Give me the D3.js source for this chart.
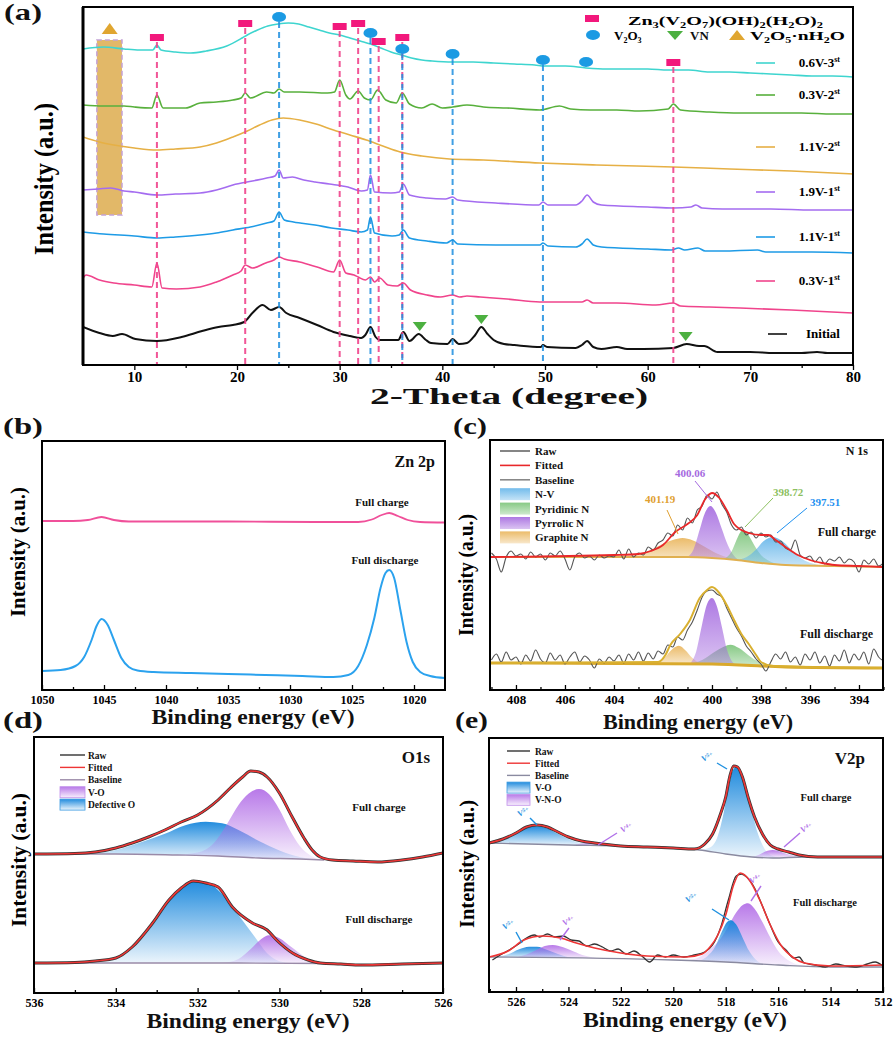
<!DOCTYPE html>
<html><head><meta charset="utf-8">
<script src="https://cdn.jsdelivr.net/npm/d3@7/dist/d3.min.js"></script>
<style>
body{margin:0;background:#fff}
svg{display:block;font-weight:bold}
</style></head><body>
<svg id="fig" width="895" height="1038" font-family="Liberation Serif, Times New Roman, serif"></svg>
<script>
// ---------- (a) XRD patterns: [2theta, intensity] ----------
const xrdTicks = [10,20,30,40,50,60,70,80];
const xrdCyan = [[5,316],[7,318],[9,316],[10.5,315],[11.8,315],[12.2,320],[12.6,315],[14,313],[15.5,312],[17,314],[19,319],[20.5,327],[21,330],[22,335],[23,339],[24,341],[25,342],[26,341],[27,338],[28,335],[29,332],[30,330],[31,327],[32,324],[33,321],[34,317],[35,313],[36,310],[37,307],[38,305],[39,304],[41,303],[43,303],[45,302],[47,301],[49,300],[50,299],[52,299],[54,297],[56,296],[58,296],[60,296],[62,295],[64,295],[66,293],[68,293],[70,292],[72,291],[74,290],[76,289],[78,289],[80,288]];
const xrdGreen = [[5,260],[7,259],[9,259],[10,258],[11.7,257],[12.2,270],[12.8,257],[14,257],[15,257],[16.4,262],[18,263],[19.6,265],[20.4,267],[20.8,272],[21.3,267],[22.9,273],[23.6,272],[24.1,276],[24.6,273],[26.1,273],[28.8,272],[29.5,273],[30.0,285],[30.6,270],[31,266],[31.8,274],[32.4,267],[33.0,265],[33.7,275],[34.5,265],[35.5,262],[36.1,272],[36.8,261],[38,257],[39,261],[40,257],[41,258],[42.4,260],[44,258],[46.3,257],[49.5,255],[51.4,259],[52.5,256],[54.4,255],[57,255],[59.2,254],[62,256],[62.5,261],[63.2,255],[66,253],[69,252],[72,252],[75,252],[78,251],[80,251]];
const xrdOrange = [[5,228],[6.6,223],[8,220],[10,217],[12.2,215],[14,216],[16.4,218],[18,222],[19.6,228],[21,234],[22.2,240],[23.4,245],[24.5,247],[26.1,245],[27.7,241],[29.4,235],[31,230],[32.6,225],[34.2,219],[35.9,213],[38,209],[40.7,206],[44,205],[49.5,202],[55,200],[62.5,198],[68,196],[74,194],[80,191]];
const xrdPurple = [[5,175],[6.5,176],[7.7,177],[9,174],[10,173],[12.2,170],[14,171],[16.4,172],[18,175],[19.6,180],[21.5,184],[22.9,187],[23.7,189],[24.1,195],[24.5,187],[25.4,188],[26.5,185],[27.6,183],[29,181],[30.8,178],[32.1,174],[32.7,175],[33.0,190],[33.4,173],[35,172],[35.8,173],[36.2,181],[36.8,170],[38.5,167],[40.3,166],[41.0,168],[41.5,165],[45.2,162],[49.4,160],[49.8,163],[50.3,160],[53,160],[53.6,164],[54.1,170],[54.7,163],[55.5,160],[60,158],[62.5,157],[64.2,158],[64.7,160],[65.3,157],[67.3,156],[72,156],[76,155],[80,155]];
const xrdBlue = [[5,133],[7,131],[10,129],[12.2,127],[14,128],[16.4,130],[18,132],[19.6,135],[21.3,138],[22.9,142],[23.6,144],[24.1,153],[24.6,145],[25.5,143],[27.6,140],[29.2,137],[30.8,135],[32.1,133],[32.7,135],[33.0,148],[33.4,132],[35.1,129],[35.8,130],[36.2,135],[36.8,127],[38.5,124],[40.4,122],[41.0,125],[41.5,121],[45.2,120],[49.5,120],[49.8,122],[50.3,119],[53,118],[53.6,121],[54.1,126],[54.7,120],[55.5,118],[60,116],[62.3,115],[63,117],[63.6,115],[64.9,117],[65.6,114],[67.3,114],[70.7,115],[71.5,113],[76,113],[80,112]];
const xrdPink = [[5,87],[5.3,90],[6.6,85],[8,82],[10,80],[11.7,78],[12.2,102],[12.7,77],[14.1,76],[16.4,78],[18,83],[19.6,90],[20.4,94],[20.8,100],[21.5,97],[22.8,102],[23.6,105],[24.1,108],[24.6,106],[26.1,103],[27.8,98],[29.4,93],[30.0,105],[30.6,92],[31.4,90],[31.8,88],[32.5,85],[33.0,88],[33.4,83],[33.9,87],[34.7,80],[35.6,79],[36.2,82],[36.9,75],[38.5,70],[39.8,68],[41,70],[41.7,68],[42.4,69],[43.7,68],[46.3,66],[49.5,63],[52,63],[53.6,63],[54.1,65],[54.7,62],[57,62],[60.8,60],[62.5,62],[63.2,59],[66,58],[69,57],[74,55],[80,52]];
const xrdBlack = [[5,38],[6.6,32],[7.9,29],[8.8,31],[10.1,26],[12.2,24],[14.6,28],[16.6,34],[18.2,38],[19.6,40],[20.7,43],[21.5,52],[22.5,60],[23.3,55],[24.1,58],[24.8,52],[26.1,47],[27.8,40],[29.4,33],[31,29],[32.1,27],[32.5,30],[33.0,38],[33.5,28],[33.9,25],[35.7,25],[36.2,33],[36.8,24],[37.7,31],[38.4,25],[38.9,22],[40.5,21],[41,26],[41.6,21],[42.4,22],[43.2,30],[43.8,38],[44.4,31],[45,25],[46,21],[47,20],[49.6,18],[49.8,20],[50.2,18],[53,17],[53.6,20],[54.1,24],[54.7,18],[55.5,16],[57,18],[58,16],[59.6,16],[62.5,17],[63.8,21],[65.0,19],[65.5,19],[66.8,13],[70,13],[72.3,12],[75,12],[76.5,13],[77.5,12],[80,12]];
const xrdNames = ["0.6V-3","0.3V-2","1.1V-2","1.9V-1","1.1V-1","0.3V-1","Initial"];
const xrdSup = ["st","st","st","st","st","st",""];
// reference phases: [2theta, intensity level of marker]
const zvoMarks = [[12.2,327],[20.8,341],[30.0,338],[31.8,341],[33.8,323],[36.1,327],[62.5,302]];
const v2o3Marks = [[24.1,348],[33.0,332],[36.1,316],[41.0,311],[49.8,305],[54.0,303]];
const v2o3Lines = [24.1,33.0,36.1,41.0,49.8];
const vnMarks = [[37.8,43],[43.8,50],[63.7,33]];
const hydrateBand = [6.35, 8.8, 150, 325];
const hydrateMark = [7.6, 331];

// ---------- (b) Zn 2p: [binding energy, intensity] ----------
const znTicks = [1050,1045,1040,1035,1030,1025,1020];
const znCharge = [[1050,169],[1047.5,169],[1046.3,170],[1045.2,173],[1044.2,170],[1043,168.5],[1035,168.5],[1028,168],[1024.5,168],[1023.4,170.5],[1022.6,175],[1022.0,177],[1021.3,174],[1020.5,170],[1019.5,168],[1017.5,167.5]];
const znDischarge = [[1050,19],[1048.5,20],[1047.3,24],[1046.6,33],[1046.0,50],[1045.6,64],[1045.2,71],[1044.7,65],[1044.2,50],[1043.6,32],[1043.0,23],[1042.3,19.5],[1041,18],[1038,17],[1035,16],[1032,15],[1029,14],[1026.5,13],[1025.3,15],[1024.5,24],[1023.8,45],[1023.2,72],[1022.7,102],[1022.3,117],[1022.0,120],[1021.6,112],[1021.1,80],[1020.6,48],[1020.1,28],[1019.5,18],[1018.7,14],[1017.5,12]];

// ---------- (c) N 1s ----------
const nTicks = [408,406,404,402,400,398,396,394];
const nRawC = [[409.0,137],[408.8,131],[408.6,118],[408.4,133],[408.2,139],[408.0,134],[407.8,136],[407.6,131],[407.4,138],[407.2,133],[407.0,136],[406.8,130],[406.6,137],[406.4,134],[406.2,139],[406.0,131],[405.8,120],[405.6,133],[405.4,137],[405.2,132],[405.0,134],[404.8,130],[404.6,135],[404.4,132],[404.2,134],[404.0,133],[403.8,140],[403.6,131],[403.4,141],[403.2,133],[403.0,137],[402.8,135],[402.6,143],[402.4,140],[402.2,147],[402.0,150],[401.8,157],[401.6,154],[401.4,165],[401.2,160],[401.0,172],[400.8,167],[400.6,180],[400.4,184],[400.2,195],[400.0,191],[399.8,198],[399.6,186],[399.4,178],[399.2,165],[399.0,160],[398.8,163],[398.6,155],[398.4,158],[398.2,152],[398.0,157],[397.8,153],[397.6,155],[397.4,148],[397.2,149],[397.0,142],[396.8,140],[396.6,150],[396.4,135],[396.2,132],[396.0,134],[395.8,128],[395.6,133],[395.4,126],[395.2,131],[395.0,129],[394.8,133],[394.6,127],[394.4,131],[394.2,128],[394.0,118],[393.8,130],[393.6,126],[393.4,131],[393.2,124],[393.0,127]];
const nFitC = [[409.06,133],[404,135],[403,136],[402.5,139],[402,145],[401.5,158],[401.0,166],[400.6,175],[400.3,190],[400.0,197],[399.7,192],[399.4,180],[399.1,166],[398.8,160],[398.5,157],[398.0,155],[397.7,155],[397.4,150],[397.0,143],[396.5,135],[396.0,130],[395.5,127],[395,125],[394,124],[393.02,123]];
const nBaseC = [[409.06,133],[401,133],[400,132],[399,130],[398,127],[397,125],[395,124],[393.02,123]];
// component heights above baseline
const nGraphiteC = [[404.0,0],[403.2,2],[402.6,6],[402.1,12],[401.6,17],[401.2,19],[400.8,17],[400.3,11],[399.8,5],[399.3,1.5],[398.8,0]];
const nPyrrolicC = [[401.0,0],[400.75,8],[400.5,28],[400.3,44],[400.06,52],[399.85,46],[399.6,30],[399.35,14],[399.1,4],[398.9,0]];
const nPyridinicC = [[399.5,0],[399.2,8],[399.0,20],[398.85,28],[398.72,31],[398.5,26],[398.25,16],[398.0,8],[397.7,3],[397.3,0]];
const nNVC = [[399.0,0],[398.6,4],[398.2,13],[397.9,22],[397.51,27],[397.1,23],[396.7,14],[396.3,6],[395.9,2],[395.5,0]];
const nPeakLabels = ["401.19","400.06","398.72","397.51"];
const nRawD = [[409.0,30],[408.8,36],[408.6,28],[408.4,38],[408.2,30],[408.0,33],[407.8,26],[407.6,35],[407.4,29],[407.2,40],[407.0,31],[406.8,27],[406.6,37],[406.4,30],[406.2,35],[406.0,26],[405.8,33],[405.6,38],[405.4,28],[405.2,34],[405.0,30],[404.8,22],[404.6,31],[404.4,27],[404.2,33],[404.0,29],[403.8,35],[403.6,27],[403.4,36],[403.2,30],[403.0,38],[402.8,29],[402.6,37],[402.4,31],[402.2,39],[402.0,36],[401.8,45],[401.6,43],[401.4,53],[401.2,50],[401.0,60],[400.8,68],[400.6,80],[400.4,93],[400.2,99],[400.0,100],[399.8,96],[399.6,93],[399.4,82],[399.2,72],[399.0,62],[398.8,54],[398.6,44],[398.4,38],[398.2,31],[398.0,26],[397.8,19],[397.6,28],[397.4,36],[397.2,31],[397.0,38],[396.8,28],[396.6,33],[396.4,25],[396.2,36],[396.0,30],[395.8,38],[395.6,27],[395.4,34],[395.2,24],[395.0,35],[394.8,29],[394.6,40],[394.4,27],[394.2,36],[394.0,30],[393.8,38],[393.6,26],[393.4,41],[393.2,33],[393.0,29]];
const nFitD = [[409.06,27],[402.2,28],[401.9,35],[401.7,45],[401.3,56],[400.9,70],[400.5,92],[400.2,100],[400.0,103],[399.7,97],[399.4,85],[399.1,70],[398.8,56],[398.5,46],[398.2,35],[398.0,28],[397.5,24],[393.02,22]];
const nBaseD = [[409.06,27],[400,26],[397,23],[393.02,22]];
const nGraphiteD = [[402.2,0],[401.9,7],[401.6,15],[401.35,18],[401.1,14],[400.8,6],[400.5,1],[400.2,0]];
const nPyrrolicD = [[400.9,0],[400.65,12],[400.4,40],[400.2,60],[400.0,66],[399.8,58],[399.6,38],[399.4,16],[399.2,4],[399.0,0]];
const nPyridinicD = [[401.0,0],[400.4,4],[399.9,12],[399.5,18],[399.25,20],[398.9,17],[398.5,10],[398.1,4],[397.6,1],[397.2,0]];

// ---------- (d) O 1s ----------
const oTicks = [536,534,532,530,528,526];
const oFitC = [[536,139],[535,139.5],[534.5,141],[534,145],[533.6,150],[533.2,156],[532.8,163],[532.4,171],[532.0,178],[531.5,193],[531.2,205],[530.9,216],[530.7,222],[530.5,221],[530.3,216],[530.0,200],[529.7,177],[529.4,155],[529.2,143],[529.0,136],[528.7,133],[528.2,132],[527.6,131],[527,133],[526.5,136],[526,140]];
const oBaseC = [[536,139],[534,139],[532.5,138],[531.5,137],[530.5,135],[529.5,134],[528.9,133]];
const oVOC = [[532.6,0],[532.0,3],[531.6,13],[531.3,31],[531.0,52],[530.75,64],[530.5,69],[530.25,64],[530.0,49],[529.75,29],[529.5,13],[529.2,3],[529.0,0]];
const oDefC = [[534.6,0],[534.0,4],[533.4,12],[532.8,21],[532.3,30],[531.8,34],[531.4,33],[531.0,27],[530.5,17],[530.0,8],[529.5,2],[529.0,0]];
const oFitD = [[536,30],[535,30.5],[534.5,32],[534,35],[533.6,46],[533.1,70],[532.7,93],[532.4,105],[532.1,112],[531.8,110],[531.5,106],[531.15,86],[530.66,70],[530.3,63],[530.07,53],[529.68,40],[529.3,33],[529.0,30],[528.5,29],[528,28],[527,29],[526,30]];
const oBaseD = [[536,30],[531,30],[528.9,29.5]];
const oDefD = [[534.6,0],[534,4],[533.6,15],[533.1,40],[532.7,62],[532.4,75],[532.05,82],[531.7,79],[531.4,69],[531.0,48],[530.6,26],[530.3,10],[530.0,2],[529.7,0]];
const oVOD = [[531.4,0],[531.0,4],[530.7,14],[530.45,24],[530.25,28],[530.0,25],[529.7,16],[529.4,7],[529.1,1],[528.9,0]];

// ---------- (e) V 2p ----------
const vTicks = [526,524,522,520,518,516,514,512];
const vFitC = [[527.03,149],[526.5,153],[526,159],[525.6,165],[525.2,167],[524.8,165],[524.4,160],[524,155],[523.5,151],[523,149],[522,146],[521,145],[520,144],[519.2,143],[518.8,148],[518.5,158],[518.2,178],[518.0,195],[517.85,215],[517.7,226],[517.55,225],[517.35,214],[517.15,195],[516.9,175],[516.6,158],[516.3,147],[516.0,143],[515.6,140],[515.2,137],[514.5,135],[513,135],[512,135]];
const vBaseC = [[527.03,149],[524,147],[522,146],[520,144],[519,142],[518,138],[517,135],[516.2,134],[515,135],[512,135]];
const vVOC1 = [[519.0,0],[518.6,4],[518.3,17],[518.1,38],[517.9,66],[517.7,86],[517.6,88],[517.45,84],[517.25,70],[517.0,45],[516.75,22],[516.5,8],[516.2,2],[515.9,0]];
const vVOC2 = [[526.9,0],[526.4,5],[526.0,11],[525.6,16],[525.2,18],[524.8,16],[524.4,11],[524.0,6],[523.5,2],[523.0,0]];
const vVNOC1 = [[517.0,0],[516.7,3],[516.4,7],[516.2,8],[515.9,6],[515.6,3],[515.2,1],[514.9,0]];
const vVNOC2 = [[523.8,0],[523.4,2],[523.0,3],[522.6,2],[522.2,0]];
const vRawD = [[526.9,32],[526.6,37],[526.2,43],[525.9,48],[525.6,54],[525.3,57],[525.1,55],[524.8,58],[524.5,55],[524.2,56],[523.9,52],[523.6,51],[523.3,46],[523.0,48],[522.7,45],[522.4,41],[522.1,43],[521.8,38],[521.5,41],[521.2,36],[520.9,30],[520.6,37],[520.3,35],[520.0,37],[519.6,35],[519.2,37],[518.8,40],[518.5,47],[518.2,64],[517.9,92],[517.6,116],[517.4,118],[517.2,115],[516.9,104],[516.6,86],[516.3,67],[516.0,50],[515.7,42],[515.4,34],[515.2,35],[515.0,29],[514.6,27],[514.2,25],[513.8,28],[513.4,26],[513.0,25],[512.6,28],[512.3,30],[512.0,26]];
const vFitD = [[527.03,35],[526.3,41],[525.7,52],[525.0,56],[524.3,54],[523.7,49],[523.0,44],[522.0,39],[521.0,36],[519.5,35],[518.9,38],[518.6,45],[518.3,57],[518.0,77],[517.7,107],[517.45,119],[517.1,112],[516.7,92],[516.3,67],[515.9,47],[515.4,34],[515.0,29],[514,26],[512,27]];
const vBaseD = [[527.03,35],[520,32],[518,30],[516,27],[514,25],[512,25]];
const vVOD1 = [[519.0,0],[518.7,5],[518.4,15],[518.15,30],[517.95,40],[517.8,42],[517.6,38],[517.35,25],[517.1,12],[516.85,4],[516.6,0]];
const vVNOD1 = [[519.5,0],[519.0,4],[518.6,12],[518.2,23],[517.9,36],[517.6,50],[517.35,58],[517.15,60],[516.9,55],[516.6,42],[516.3,27],[516.0,14],[515.6,5],[515.2,1],[514.9,0]];
const vVOD2 = [[526.7,0],[526.3,3],[525.9,8],[525.5,11],[525.2,11],[524.8,8],[524.4,4],[524.0,1],[523.7,0]];
const vVNOD2 = [[526.0,0],[525.6,3],[525.2,8],[524.9,12],[524.6,13],[524.2,11],[523.8,7],[523.4,3],[523.0,1],[522.7,0]];

// ================= drawing =================
const svg = d3.select("#fig");
const defs = svg.append("defs");
function grad(id, color, top, bottom) {
  const g = defs.append("linearGradient").attr("id", id)
    .attr("x1", 0).attr("y1", 0).attr("x2", 0).attr("y2", 1);
  g.append("stop").attr("offset", "0%").attr("stop-color", color).attr("stop-opacity", top);
  g.append("stop").attr("offset", "100%").attr("stop-color", color).attr("stop-opacity", bottom);
}
grad("gBlue", "#1686dc", 0.95, 0.08);
grad("gPurple", "#b06ae6", 0.9, 0.1);
grad("gNV", "#5ab0e8", 0.85, 0.35);
grad("gPyri", "#72c070", 0.85, 0.35);
grad("gPyrr", "#a46adf", 0.9, 0.4);
grad("gGraph", "#e8b050", 0.85, 0.3);

function interp(arr, e) {
  for (let i = 0; i < arr.length - 1; i++) {
    const a = arr[i], b = arr[i + 1];
    if ((e - a[0]) * (e - b[0]) <= 0) {
      const t = (e - a[0]) / (b[0] - a[0] || 1);
      return a[1] + t * (b[1] - a[1]);
    }
  }
  return Math.abs(e - arr[0][0]) < Math.abs(e - arr[arr.length - 1][0]) ? arr[0][1] : arr[arr.length - 1][1];
}

function makePanel(box, xDomain, ticks, minor, tickSize, pad, outward) {
  const x = d3.scaleLinear().domain(xDomain).range([box.l, box.r]);
  const y = d3.scaleLinear().domain([0, box.b - box.t]).range([box.b, box.t]);
  const g = svg.append("g");
  const clipId = "clip" + box.l + "_" + box.t;
  defs.append("clipPath").attr("id", clipId).append("rect")
    .attr("x", box.l).attr("y", box.t).attr("width", box.r - box.l).attr("height", box.b - box.t);
  const plot = g.append("g").attr("clip-path", `url(#${clipId})`);
  const axG = g.append("g").attr("transform", `translate(0,${box.b})`);
  const sgn = outward ? 1 : -1;
  axG.append("g").call(d3.axisBottom(x).tickValues(minor).tickSize(3 * sgn).tickFormat(""))
    .call(a => a.select(".domain").remove());
  axG.append("g").call(d3.axisBottom(x).tickValues(ticks).tickSize(5 * sgn).tickPadding(pad).tickFormat(d3.format("d")))
    .attr("font-family", null).attr("font-size", tickSize).attr("font-weight", "bold")
    .call(a => a.select(".domain").remove());
  axG.selectAll("line").attr("stroke", "#000").attr("stroke-width", 1.3);
  g.append("rect").attr("x", box.l).attr("y", box.t)
    .attr("width", box.r - box.l).attr("height", box.b - box.t)
    .attr("fill", "none").attr("stroke", "#000").attr("stroke-width", 2);
  return {g, plot, x, y};
}

function text(g, str, x, y, size, opts = {}) {
  const t = g.append("text").attr("x", x).attr("y", y).attr("font-size", size)
    .attr("text-anchor", opts.anchor || "start").attr("fill", opts.color || "#111");
  if (opts.len) t.attr("textLength", opts.len).attr("lengthAdjust", "spacingAndGlyphs");
  t.text(str);
  return t;
}
function yLabel(x, yc, len, size) {
  svg.append("text").attr("transform", `translate(${x},${yc}) rotate(-90)`)
    .attr("text-anchor", "middle").attr("font-size", size)
    .attr("textLength", len).attr("lengthAdjust", "spacingAndGlyphs")
    .text("Intensity (a.u.)");
}
function rich(g, parts, x, y, size, len) {
  const t = g.append("text").attr("x", x).attr("y", y).attr("font-size", size);
  if (len) t.attr("textLength", len).attr("lengthAdjust", "spacingAndGlyphs");
  let shift = 0;
  parts.forEach(([s, kind]) => {
    const want = kind === "sub" ? 3 : kind === "sup" ? -5 : 0;
    t.append("tspan").attr("dy", want - shift)
      .attr("font-size", kind ? size * 0.62 : size).text(s);
    shift = want;
  });
  return t;
}

const lineOf = (p) => d3.line().x(d => p.x(d[0])).y(d => p.y(d[1])).curve(d3.curveMonotoneX);
function comp(p, data, base, fill) {
  p.plot.append("path").datum(data)
    .attr("d", d3.area().x(d => p.x(d[0]))
      .y0(d => p.y(interp(base, d[0])))
      .y1(d => p.y(interp(base, d[0]) + d[1])).curve(d3.curveMonotoneX))
    .attr("fill", fill).attr("stroke", "none");
}
function curve(p, data, color, w) {
  p.plot.append("path").datum(data).attr("d", lineOf(p))
    .attr("fill", "none").attr("stroke", color).attr("stroke-width", w)
    .attr("stroke-linejoin", "round");
}

// ---------- panel (a) ----------
const pa = makePanel({l: 83, r: 853, t: 7, b: 365}, [5, 80], xrdTicks, [15,25,35,45,55,65,75], 15, 1, true);
pa.g.append("line").attr("x1", 83).attr("x2", 83).attr("y1", 7).attr("y2", 365)
  .attr("stroke", "#000").attr("stroke-width", 3);
// hydrate band
pa.plot.append("rect").attr("x", pa.x(hydrateBand[0])).attr("y", pa.y(hydrateBand[3]))
  .attr("width", pa.x(hydrateBand[1]) - pa.x(hydrateBand[0]))
  .attr("height", pa.y(hydrateBand[2]) - pa.y(hydrateBand[3]))
  .attr("fill", "#e2b868").attr("stroke", "#c4a2d6").attr("stroke-width", 1.5).attr("stroke-dasharray", "5,3");
const triUp = (cx, by, w, h) => `M${cx - w},${by}L${cx + w},${by}L${cx},${by - h}Z`;
const triDown = (cx, ty, w, h) => `M${cx - w},${ty}L${cx + w},${ty}L${cx},${ty + h}Z`;
pa.g.append("path").attr("d", triUp(pa.x(hydrateMark[0]), pa.y(hydrateMark[1]), 8, 11)).attr("fill", "#e0a630");

const xrdColors = ["#3ed5cf", "#58b03c", "#e6b045", "#a46cf0", "#1e9be6", "#f0448c", "#111"];
const xrdData = [xrdCyan, xrdGreen, xrdOrange, xrdPurple, xrdBlue, xrdPink, xrdBlack];
xrdData.forEach((d, i) => curve(pa, d, xrdColors[i], i === 6 ? 2 : 1.6));

// dashed reference lines and markers
zvoMarks.forEach(([t, lv]) => {
  pa.g.append("line").attr("x1", pa.x(t)).attr("x2", pa.x(t)).attr("y1", pa.y(lv) + 4).attr("y2", 364)
    .attr("stroke", "#f0448c").attr("stroke-width", 2).attr("stroke-dasharray", "6,4").attr("opacity", 0.9);
});
v2o3Lines.forEach(t => {
  const lv = v2o3Marks.find(m => m[0] === t)[1];
  pa.g.append("line").attr("x1", pa.x(t)).attr("x2", pa.x(t)).attr("y1", pa.y(lv) + 5).attr("y2", 364)
    .attr("stroke", "#1e8fe0").attr("stroke-width", 2).attr("stroke-dasharray", "6,4").attr("opacity", 0.85);
});
zvoMarks.forEach(([t, lv]) => {
  pa.g.append("rect").attr("x", pa.x(t) - 7).attr("y", pa.y(lv) - 4).attr("width", 14).attr("height", 7).attr("fill", "#f2187c");
});
v2o3Marks.forEach(([t, lv]) => {
  pa.g.append("ellipse").attr("cx", pa.x(t)).attr("cy", pa.y(lv)).attr("rx", 7).attr("ry", 5).attr("fill", "#1b9ae3");
});
vnMarks.forEach(([t, lv]) => {
  pa.g.append("path").attr("d", triDown(pa.x(t), pa.y(lv), 7, 9)).attr("fill", "#4cb040");
});
// series labels
const xrdLabelY = [63, 95, 147, 192, 237, 281, 334];
xrdNames.forEach((n, i) => {
  const t = rich(pa.g, xrdSup[i] ? [[n, null], [xrdSup[i], "sup"]] : [[n, null]], 840, xrdLabelY[i] + 4, 13);
  t.attr("text-anchor", "end");
  const w = i === 6 ? 50 : 62;
  pa.g.append("line").attr("x1", 840 - w - 22).attr("x2", 840 - w - 3)
    .attr("y1", xrdLabelY[i]).attr("y2", xrdLabelY[i]).attr("stroke", xrdColors[i]).attr("stroke-width", 1.6);
});
// phase legend
pa.g.append("rect").attr("x", 585).attr("y", 15).attr("width", 14).attr("height", 7).attr("fill", "#f2187c");
rich(pa.g, [["Zn", null], ["3", "sub"], ["(V", null], ["2", "sub"], ["O", null], ["7", "sub"], [")(OH)", null], ["2", "sub"], ["(H", null], ["2", "sub"], ["O)", null], ["2", "sub"]], 628, 25, 13, 195);
pa.g.append("ellipse").attr("cx", 593).attr("cy", 35).attr("rx", 7).attr("ry", 5).attr("fill", "#1b9ae3");
rich(pa.g, [["V", null], ["2", "sub"], ["O", null], ["3", "sub"]], 614, 40, 13);
pa.g.append("path").attr("d", triDown(675, 31, 8, 9)).attr("fill", "#4cb040");
text(pa.g, "VN", 690, 40, 13);
pa.g.append("path").attr("d", triUp(737, 40, 8, 10)).attr("fill", "#e0a630");
rich(pa.g, [["V", null], ["2", "sub"], ["O", null], ["5", "sub"], ["·nH", null], ["2", "sub"], ["O", null]], 750, 40, 13, 95);

text(svg, "(a)", 4, 20, 24, {len: 38});
yLabel(53, 179, 152, 28);
text(svg, "2-Theta (degree)", 509, 404, 23, {anchor: "middle", len: 278});

// ---------- panel (b) ----------
const pb = makePanel({l: 42, r: 445, t: 441, b: 690}, [1050, 1017.5], znTicks, [1047.5,1042.5,1037.5,1032.5,1027.5,1022.5], 12, 5);
curve(pb, znCharge, "#f0509a", 1.8);
curve(pb, znDischarge, "#2ba2ee", 2);
text(svg, "Zn 2p", 435, 467, 16, {anchor: "end"});
text(svg, "Full charge", 382, 506, 11, {anchor: "middle"});
text(svg, "Full discharge", 385, 564, 11, {anchor: "middle"});
text(svg, "(b)", 3, 434, 24, {len: 40});
yLabel(25, 552, 130, 21);
text(svg, "Binding energy (eV)", 253, 724, 20, {anchor: "middle", len: 203});

// ---------- panel (c) ----------
const pc = makePanel({l: 490, r: 883, t: 440, b: 690}, [409.06, 393.02], nTicks, [409,407,405,403,401,399,397,395,393], 13, 5);
comp(pc, nGraphiteC, nBaseC, "url(#gGraph)");
comp(pc, nPyrrolicC, nBaseC, "url(#gPyrr)");
comp(pc, nPyridinicC, nBaseC, "url(#gPyri)");
comp(pc, nNVC, nBaseC, "url(#gNV)");
curve(pc, nBaseC, "#e0b050", 2);
curve(pc, nRawC, "#555", 1.1);
curve(pc, nFitC, "#e8282a", 1.8);
comp(pc, nGraphiteD, nBaseD, "url(#gGraph)");
comp(pc, nPyridinicD, nBaseD, "url(#gPyri)");
comp(pc, nPyrrolicD, nBaseD, "url(#gPyrr)");
curve(pc, nBaseD, "#d9a92c", 3);
curve(pc, nRawD, "#555", 1.1);
curve(pc, nFitD, "#d9b030", 2);
// peak labels with leader lines
const nLabelPos = [[660, 503, 667, 510, 678, 534, "#e0a030"], [690, 477, 695, 481, 712, 502, "#a56ae0"], [788, 496, 773, 498, 745, 527, "#8cc060"], [825, 506, 807, 508, 777, 533, "#1e90f0"]];
nPeakLabels.forEach((s, i) => {
  const [tx, ty, x1, y1, x2, y2, c] = nLabelPos[i];
  text(svg, s, tx, ty, 11, {anchor: "middle", color: c});
  svg.append("line").attr("x1", x1).attr("y1", y1).attr("x2", x2).attr("y2", y2).attr("stroke", c).attr("stroke-width", 1);
});
// legend (c)
const cLeg = ["Raw", "Fitted", "Baseline", "N-V", "Pyridinic N", "Pyrrolic N", "Graphite N"];
const cLegStyle = ["#666", "#e8282a", "#888", "url(#gNV)", "url(#gPyri)", "url(#gPyrr)", "url(#gGraph)"];
cLeg.forEach((n, i) => {
  const yy = 451 + i * 14.4;
  if (i < 3) svg.append("line").attr("x1", 500).attr("x2", 530).attr("y1", yy).attr("y2", yy).attr("stroke", cLegStyle[i]).attr("stroke-width", 1.6);
  else svg.append("rect").attr("x", 500).attr("y", yy - 6).attr("width", 30).attr("height", 12).attr("fill", cLegStyle[i]);
  text(svg, n, 535, yy + 4, 11);
});
text(svg, "N 1s", 868, 455, 12, {anchor: "end"});
text(svg, "Full charge", 876, 536, 12, {anchor: "end"});
text(svg, "Full discharge", 873, 638, 12, {anchor: "end"});
text(svg, "(c)", 453, 434, 24, {len: 34});
yLabel(473, 575, 122, 21);
text(svg, "Binding energy (eV)", 698, 729, 20, {anchor: "middle", len: 190});

// ---------- panel (d) ----------
const pd = makePanel({l: 34, r: 443, t: 737, b: 993}, [536, 526], oTicks, [535,533,531,529,527], 12, 5);
comp(pd, oDefC, oBaseC, "url(#gBlue)");
comp(pd, oVOC, oBaseC, "url(#gPurple)");
curve(pd, oBaseC, "#9a8aa8", 1.3);
curve(pd, oFitC, "#333", 3);
curve(pd, oFitC, "#ee3535", 1.6);
comp(pd, oDefD, oBaseD, "url(#gBlue)");
comp(pd, oVOD, oBaseD, "url(#gPurple)");
curve(pd, oBaseD, "#9a8aa8", 1.3);
curve(pd, oFitD, "#333", 3);
curve(pd, oFitD, "#ee3535", 1.6);
const dLeg = ["Raw", "Fitted", "Baseline", "V-O", "Defective O"];
const dLegStyle = ["#333", "#ee3535", "#9a8aa8", "url(#gPurple)", "url(#gBlue)"];
dLeg.forEach((n, i) => {
  const yy = 755 + i * 12.4;
  if (i < 3) svg.append("line").attr("x1", 60).attr("x2", 85).attr("y1", yy).attr("y2", yy).attr("stroke", dLegStyle[i]).attr("stroke-width", 1.4);
  else svg.append("rect").attr("x", 60).attr("y", yy - 5.5).attr("width", 25).attr("height", 11).attr("fill", dLegStyle[i]).attr("stroke", i === 3 ? "#c090ea" : "#3a9ae0").attr("stroke-width", 0.8);
  text(svg, n, 88, yy + 3.5, 9.5);
});
text(svg, "O1s", 430, 763, 17, {anchor: "end"});
text(svg, "Full charge", 379, 811, 11, {anchor: "middle"});
text(svg, "Full discharge", 379, 923, 11, {anchor: "middle"});
text(svg, "(d)", 3, 728, 24, {len: 40});
yLabel(26, 860, 134, 21);
text(svg, "Binding energy (eV)", 248, 1028, 20, {anchor: "middle", len: 203});

// ---------- panel (e) ----------
const pe = makePanel({l: 489, r: 883, t: 738, b: 992}, [527.03, 512], vTicks, [527,525,523,521,519,517,515,513], 12, 5);
comp(pe, vVOC2, vBaseC, "url(#gBlue)");
comp(pe, vVNOC2, vBaseC, "url(#gPurple)");
comp(pe, vVOC1, vBaseC, "url(#gBlue)");
comp(pe, vVNOC1, vBaseC, "url(#gPurple)");
curve(pe, vBaseC, "#8a8aa0", 1.3);
curve(pe, vFitC, "#333", 3);
curve(pe, vFitC, "#ee3535", 1.6);
comp(pe, vVOD2, vBaseD, "url(#gBlue)");
comp(pe, vVNOD2, vBaseD, "url(#gPurple)");
comp(pe, vVNOD1, vBaseD, "url(#gPurple)");
comp(pe, vVOD1, vBaseD, "url(#gBlue)");
curve(pe, vBaseD, "#8a8aa0", 1.3);
curve(pe, vRawD, "#333", 1.3);
curve(pe, vFitD, "#ee3535", 1.6);
const eLeg = ["Raw", "Fitted", "Baseline", "V-O", "V-N-O"];
const eLegStyle = ["#333", "#ee3535", "#8a8aa0", "url(#gBlue)", "url(#gPurple)"];
eLeg.forEach((n, i) => {
  const yy = 751 + i * 12.2;
  if (i < 3) svg.append("line").attr("x1", 507).attr("x2", 530).attr("y1", yy).attr("y2", yy).attr("stroke", eLegStyle[i]).attr("stroke-width", 1.4);
  else svg.append("rect").attr("x", 507).attr("y", yy - 5.5).attr("width", 23).attr("height", 11).attr("fill", eLegStyle[i]).attr("stroke", i === 3 ? "#3a9ae0" : "#c090ea").attr("stroke-width", 0.8);
  text(svg, n, 535, yy + 3.5, 9.5);
});
// valence annotations
const vAnn = [
  ["5+", 708, 760, 717, 763, 727, 769, "#1e90e0"],
  ["5+", 524, 815, 530, 818, 537, 825, "#1e90e0"],
  ["4+", 627, 831, 617, 833, 598, 845, "#b070e8"],
  ["4+", 807, 831, 800, 833, 784, 847, "#b070e8"],
  ["5+", 692, 901, 712, 909, 729, 920, "#1e90e0"],
  ["4+", 756, 882, 761, 886, 751, 901, "#b070e8"],
  ["5+", 509, 928, 516, 932, 522, 943, "#1e90e0"],
  ["4+", 569, 924, 569, 928, 560, 940, "#b070e8"]
];
vAnn.forEach(([s, tx, ty, x1, y1, x2, y2, c]) => {
  svg.append("text").attr("transform", `translate(${tx},${ty}) rotate(-18)`)
    .attr("text-anchor", "middle").attr("font-size", 8).attr("fill", c)
    .call(t => { t.append("tspan").text("V"); t.append("tspan").attr("dy", -3).attr("font-size", 5.5).text(s); });
  svg.append("line").attr("x1", x1).attr("y1", y1).attr("x2", x2).attr("y2", y2).attr("stroke", c).attr("stroke-width", 1.4);
});
text(svg, "V2p", 865, 764, 17, {anchor: "end"});
text(svg, "Full charge", 826, 801, 10.5, {anchor: "middle"});
text(svg, "Full discharge", 825, 906, 10.5, {anchor: "middle"});
text(svg, "(e)", 455, 728, 24, {len: 33});
yLabel(474, 864, 128, 21);
text(svg, "Binding energy (eV)", 685, 1027, 20, {anchor: "middle", len: 204});
</script>
</body></html>
